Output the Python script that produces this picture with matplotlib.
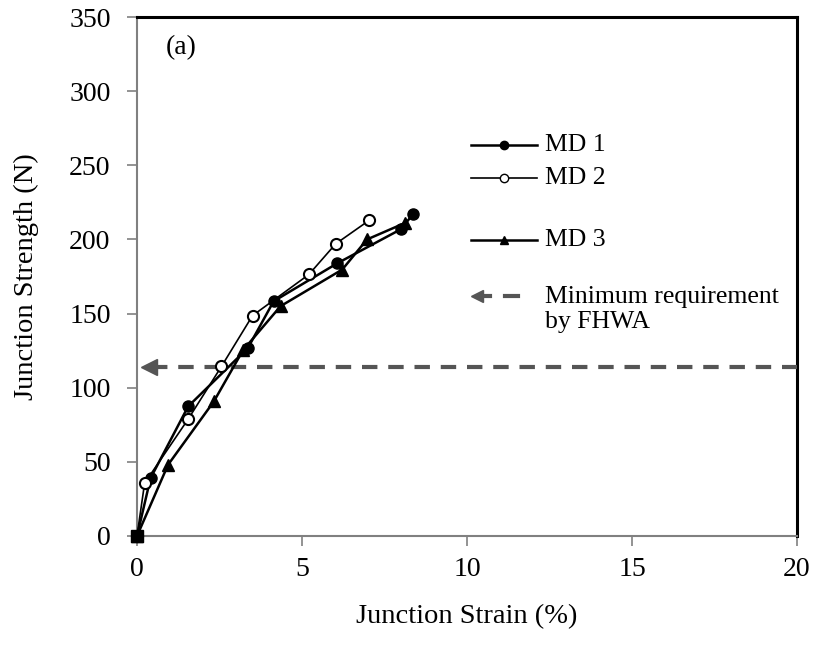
import matplotlib
matplotlib.use("Agg")
import matplotlib.pyplot as plt
from matplotlib.lines import Line2D

plt.rcParams['font.family'] = ['Liberation Serif', 'DejaVu Serif']

md1_x = [0, 0.41, 1.55, 3.36, 4.14, 6.06, 7.99, 8.36]
md1_y = [0, 39, 87.4, 126.8, 158.3, 183.8, 206.8, 216.9]
md2_x = [0, 0.23, 1.55, 2.56, 3.50, 5.21, 6.02, 7.03]
md2_y = [0, 35.6, 78.8, 114.4, 148.6, 176.4, 197, 212.8]
md3_x = [0, 0.94, 2.33, 3.21, 4.35, 6.22, 6.97, 8.11]
md3_y = [0, 48, 90.8, 125.2, 155, 179.7, 200, 211]
min_req = 114
x_ticks = [0, 5, 10, 15, 20]
y_ticks = [0, 50, 100, 150, 200, 250, 300, 350]
labels = ['MD 1', 'MD 2', 'MD 3', 'Minimum requirement\nby FHWA']

fig = plt.figure(figsize=(8.17, 6.45), dpi=100)
ax = fig.add_axes([0.1677, 0.169, 0.9755 - 0.1677, 0.9736 - 0.169])

ax.plot(md1_x, md1_y, color='black', lw=1.8, marker='o', ms=8, mfc='black', mec='black', zorder=4, clip_on=False)
ax.plot(md2_x, md2_y, color='black', lw=1.2, marker='o', ms=8, mfc='white', mec='black', mew=1.5, zorder=5, clip_on=False)
ax.plot(md3_x, md3_y, color='black', lw=1.8, marker='^', ms=8, mfc='black', mec='black', zorder=4, clip_on=False)
# overlapping origin markers appear as a solid blob in the reference
ax.plot([md1_x[0]], [md1_y[0]], marker='s', ms=8, color='black', zorder=6, clip_on=False)

gray = '#555555'
ax.plot([0.45, 20], [min_req, min_req], color=gray, lw=3.0, ls=(0, (3.7, 2.6)), zorder=3,
        solid_capstyle='butt', clip_on=False)
ax.plot([0.35], [min_req], marker='<', color=gray, ms=11, zorder=3)

ax.set_xlim(0, 20)
ax.set_ylim(0, 350)
ax.set_xticks(x_ticks)
ax.set_yticks(y_ticks)
ax.tick_params(axis='both', labelsize=20, direction='out', length=7, width=1.2, color='#808080')
ax.tick_params(axis='y', pad=12)
ax.tick_params(axis='x', pad=8)
for s in ['left', 'bottom']:
    ax.spines[s].set_color('#808080')
    ax.spines[s].set_linewidth(1.5)
for s in ['top', 'right']:
    ax.spines[s].set_color('black')
    ax.spines[s].set_linewidth(2.2)

ax.set_xlabel('Junction Strain (%)', fontsize=20.5, labelpad=16)
ax.set_ylabel('Junction Strength (N)', fontsize=20.5, labelpad=22)
ax.text(0.043, 0.942, '(a)', transform=ax.transAxes, fontsize=20, va='center', ha='left')

# legend (manual, axes fraction)
tr = ax.transAxes
lx0, lx1, lxm, tx = 0.506, 0.606, 0.556, 0.618
rows = [0.753, 0.690, 0.570]
styles = [dict(lw=1.8, marker='o', mfc='black', ms=6),
          dict(lw=1.2, marker='o', mfc='white', ms=6, mew=1.0),
          dict(lw=1.8, marker='^', mfc='black', ms=6)]
for yv, st, lab in zip(rows, styles, labels[:3]):
    ax.add_line(Line2D([lx0, lx1], [yv, yv], transform=tr, color='black', lw=st['lw']))
    ax.add_line(Line2D([lxm], [yv], transform=tr, color='black', marker=st['marker'],
                       mfc=st['mfc'], mec='black', ms=st['ms'], mew=st.get('mew', 1.0)))
    ax.text(tx, yv, lab, transform=tr, fontsize=18.5, va='center', ha='left')
ym = 0.462
ax.add_line(Line2D([0.525, 0.535], [ym, ym], transform=tr, color=gray, lw=3.0))
ax.add_line(Line2D([0.515], [ym], transform=tr, color=gray, marker='<', ms=8, lw=0))
ax.add_line(Line2D([0.557, 0.577], [ym, ym], transform=tr, color=gray, lw=3.0))
ax.text(tx, 0.436, labels[3], transform=tr, fontsize=18.5, va='center', ha='left', linespacing=1.2)

fig.savefig('out.png', dpi=100)
